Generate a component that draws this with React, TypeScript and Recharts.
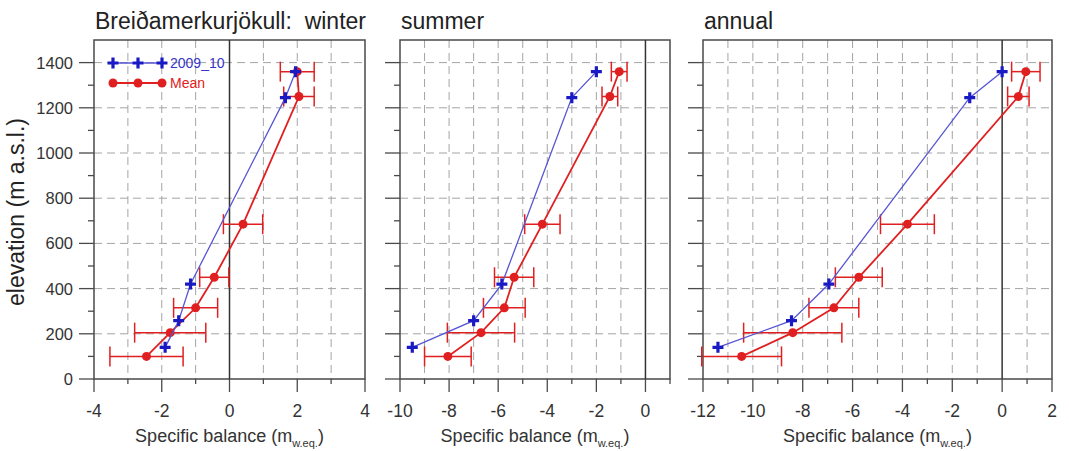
import {
  ComposedChart,
  Scatter,
  XAxis,
  YAxis,
  CartesianGrid,
  ReferenceLine,
  ReferenceArea,
  ErrorBar,
  Legend,
} from "recharts";

// elevations (m a.s.l.) of the mean profile and of the 2009_10 stakes
const meanElevation = [1360, 1250, 685, 450, 315, 205, 100];
const yearElevation = [1360, 1245, 420, 258, 140];

// specific balance, m w.eq.
const winterMean = [2.0, 2.05, 0.4, -0.45, -1.0, -1.75, -2.45];
const winterMeanErr = [0.5, 0.45, 0.58, 0.43, 0.65, 1.05, 1.08];
const winter0910 = [1.95, 1.65, -1.15, -1.5, -1.9];

const summerMean = [-1.07, -1.45, -4.2, -5.35, -5.75, -6.7, -8.05];
const summerMeanErr = [0.32, 0.32, 0.72, 0.8, 0.85, 1.37, 0.95];
const summer0910 = [-2.0, -3.0, -5.85, -7.0, -9.5];

const annualMean = [0.95, 0.65, -3.8, -5.75, -6.75, -8.4, -10.45];
const annualMeanErr = [0.57, 0.43, 1.08, 0.94, 1.0, 1.97, 1.6];
const annual0910 = [0.0, -1.3, -6.95, -8.45, -11.4];

const winterTicks = [-4, -3, -2, -1, 0, 1, 2, 3, 4];
const summerTicks = [-10, -9, -8, -7, -6, -5, -4, -3, -2, -1, 0, 1];
const annualTicks = [-12, -11, -10, -9, -8, -7, -6, -5, -4, -3, -2, -1, 0, 1, 2];
const elevationTicks = [0, 100, 200, 300, 400, 500, 600, 700, 800, 900, 1000, 1100, 1200, 1300, 1400];
const elevationGrid = [200, 400, 600, 800, 1000, 1200, 1400];

const BLUE = "#1a1ac4";
const BLUE_LINE = "#5656d4";
const RED = "#e02020";
const AXIS = "#4a4a4a";
const FONT = "'Liberation Sans', Arial, sans-serif";

const H = 451;
const PLOT_TOP = 40;
const PLOT_BOTTOM = 379;

const PlusMark = (p: any) => (
  <path
    d={`M${p.cx - 5.5},${p.cy}h11M${p.cx},${p.cy - 5.5}v11`}
    stroke={BLUE}
    strokeWidth={3.2}
    fill="none"
  />
);

const DotMark = (p: any) => <circle cx={p.cx} cy={p.cy} r={4.5} fill={RED} />;

const makeXTick = () => (props: any) => {
  const { x, payload } = props;
  const major = Math.abs(payload.value) % 2 === 0;
  return (
    <g>
      <line x1={x} x2={x} y1={PLOT_BOTTOM} y2={PLOT_BOTTOM + (major ? 13 : 5)} stroke={AXIS} strokeWidth={1.3} />
      {major && (
        <text x={x} y={PLOT_BOTTOM + 38} textAnchor="middle" fill="#333" fontSize={17.5} fontFamily={FONT}>
          {payload.value}
        </text>
      )}
    </g>
  );
};

const makeYTick = (axisX: number, labels: boolean) => (props: any) => {
  const { y, payload } = props;
  const major = payload.value % 200 === 0;
  return (
    <g>
      <line x1={axisX - (major ? 15 : 6)} x2={axisX} y1={y} y2={y} stroke={AXIS} strokeWidth={1.3} />
      {labels && major && (
        <text x={axisX - 21} y={y + 6} textAnchor="end" fill="#333" fontSize={16.5} fontFamily={FONT}>
          {payload.value}
        </text>
      )}
    </g>
  );
};

const LegendBox = () => (
  <svg width={140} height={42} style={{ overflow: "visible" }}>
    <line x1={13} x2={62} y1={10} y2={10} stroke={BLUE_LINE} strokeWidth={1.5} />
    {[13, 38, 62].map((cx) => (
      <PlusMark key={cx} cx={cx} cy={10} />
    ))}
    <text x={70} y={15} fill="#3636c8" fontSize={14} fontFamily={FONT}>
      2009_10
    </text>
    <line x1={13} x2={62} y1={30} y2={30} stroke={RED} strokeWidth={2} />
    {[13, 38, 62].map((cx) => (
      <DotMark key={cx} cx={cx} cy={30} />
    ))}
    <text x={70} y={35} fill={RED} fontSize={14} fontFamily={FONT}>
      Mean
    </text>
  </svg>
);

const panels = [
  {
    title: "Breiðamerkurjökull:  winter",
    left: 0,
    width: 380,
    plotLeft: 94,
    plotRight: 365,
    yAxisWidth: 60,
    yLabels: true,
    legend: true,
    domain: [-4, 4],
    ticks: winterTicks,
    mean: winterMean,
    err: winterMeanErr,
    year: winter0910,
  },
  {
    title: "summer",
    left: 380,
    width: 300,
    plotLeft: 400,
    plotRight: 670,
    yAxisWidth: 16,
    yLabels: false,
    legend: false,
    domain: [-10, 1],
    ticks: summerTicks,
    mean: summerMean,
    err: summerMeanErr,
    year: summer0910,
  },
  {
    title: "annual",
    left: 680,
    width: 389,
    plotLeft: 703,
    plotRight: 1052,
    yAxisWidth: 16,
    yLabels: false,
    legend: false,
    domain: [-12, 2],
    ticks: annualTicks,
    mean: annualMean,
    err: annualMeanErr,
    year: annual0910,
  },
];

function BalancePanel({ panel }: { panel: (typeof panels)[number] }) {
  const offsetLeft = panel.plotLeft - panel.left;
  const meanData = meanElevation.map((e, i) => ({ x: panel.mean[i], y: e, err: panel.err[i] }));
  const yearData = yearElevation.map((e, i) => ({ x: panel.year[i], y: e }));
  const gridX = panel.ticks.filter((t) => t !== 0 && t !== panel.domain[0] && t !== panel.domain[1]);

  return (
    <div style={{ position: "absolute", left: panel.left, top: 0 }}>
      <ComposedChart
        width={panel.width}
        height={H}
        margin={{
          top: PLOT_TOP,
          right: panel.left + panel.width - panel.plotRight,
          bottom: H - PLOT_BOTTOM - 40,
          left: offsetLeft - panel.yAxisWidth,
        }}
      >
        <CartesianGrid
          stroke="#a4a4a4"
          strokeDasharray="8 5"
          horizontalValues={elevationGrid}
          verticalValues={gridX}
        />
        <XAxis
          type="number"
          dataKey="x"
          domain={panel.domain}
          allowDataOverflow
          ticks={panel.ticks}
          interval={0}
          height={40}
          axisLine={false}
          tickLine={false}
          tick={makeXTick()}
        />
        <YAxis
          type="number"
          dataKey="y"
          domain={[0, 1500]}
          allowDataOverflow
          ticks={elevationTicks}
          interval={0}
          width={panel.yAxisWidth}
          axisLine={false}
          tickLine={false}
          tick={makeYTick(offsetLeft, panel.yLabels)}
        />
        <ReferenceLine x={0} stroke="#333" strokeWidth={1.5} />
        <ReferenceArea
          x1={panel.domain[0]}
          x2={panel.domain[1]}
          y1={0}
          y2={1500}
          fill="none"
          stroke={AXIS}
          strokeWidth={1.5}
        />
        <Scatter
          name="Mean"
          data={meanData}
          line={{ stroke: RED, strokeWidth: 1.8 }}
          shape={DotMark}
          isAnimationActive={false}
        >
          <ErrorBar dataKey="err" direction="x" width={10} stroke={RED} strokeWidth={1.5} />
        </Scatter>
        <Scatter
          name="2009_10"
          data={yearData}
          line={{ stroke: BLUE_LINE, strokeWidth: 1.3 }}
          shape={PlusMark}
          isAnimationActive={false}
        />
        {panel.legend && (
          <Legend
            layout="vertical"
            align="center"
            verticalAlign="middle"
            wrapperStyle={{ left: 100, top: 53, width: 140, height: 42 }}
            content={() => <LegendBox />}
          />
        )}
      </ComposedChart>
      <div
        style={{
          position: "absolute",
          left: panel.plotLeft - panel.left + 1,
          top: 10,
          fontSize: 23,
          lineHeight: "23px",
          fontFamily: FONT,
          color: "#222",
          whiteSpace: "pre",
        }}
      >
        {panel.title}
      </div>
      <div
        style={{
          position: "absolute",
          left: offsetLeft,
          width: panel.plotRight - panel.plotLeft,
          top: 426,
          textAlign: "center",
          fontSize: 18,
          lineHeight: "20px",
          fontFamily: FONT,
          color: "#333",
          whiteSpace: "nowrap",
        }}
      >
        Specific balance (m<sub style={{ fontSize: 11 }}>w.eq.</sub>)
      </div>
    </div>
  );
}

export default function App() {
  return (
    <div
      style={{
        position: "absolute",
        left: 0,
        top: 0,
        width: 1069,
        height: H,
        background: "#fff",
        overflow: "hidden",
      }}
    >
      {panels.map((p) => (
        <BalancePanel key={p.title} panel={p} />
      ))}
      <div
        style={{
          position: "absolute",
          left: 16,
          top: 212,
          transform: "translate(-50%, -50%) rotate(-90deg)",
          fontSize: 23,
          lineHeight: "26px",
          fontFamily: FONT,
          color: "#222",
          whiteSpace: "nowrap",
        }}
      >
        elevation (m a.s.l.)
      </div>
    </div>
  );
}
